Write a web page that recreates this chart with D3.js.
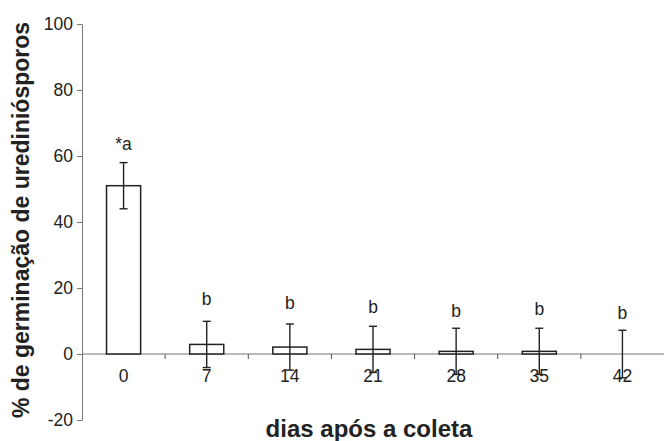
<!DOCTYPE html>
<html>
<head>
<meta charset="utf-8">
<script src="https://cdn.jsdelivr.net/npm/d3@7"></script>
<style>
  body { margin: 0; background: #fff; }
  text { font-family: "Liberation Sans", Arial, sans-serif; fill: #222; }
</style>
</head>
<body>
<div id="chartArea"></div>
<script>
// data
let days = ["0", "7", "14", "21", "28", "35", "42"];
let germination = [51, 2.9, 2.1, 1.4, 0.8, 0.8, 0];
let errors = [7, 7, 7, 7, 7, 7, 7.2];
let letters = ["*a", "b", "b", "b", "b", "b", "b"];
let letterAt = [61.8, 14.8, 13.6, 12.4, 11.3, 11.8, 10.6];
let yTicks = [-20, 0, 20, 40, 60, 80, 100];

let width = 664, height = 441;
let svg = d3.select('#chartArea').append('svg')
   .attr('width', width)
   .attr('height', height);

let x = d3.scaleBand().domain(days).range([82, 664]).paddingInner(0.59).paddingOuter(0.295);
let y = d3.scaleLinear().domain([-20, 100]).range([420, 24]);

// y axis
let yAxis = svg.append("g").attr("transform", "translate(82,0)")
   .call(d3.axisLeft(y).tickValues(yTicks).tickFormat(function(d){ return String(d); })
      .tickSize(5).tickSizeOuter(0).tickPadding(4));
yAxis.select(".domain").attr("stroke", "#777");
yAxis.selectAll(".tick line").attr("stroke", "#777");
yAxis.selectAll("text").style("font-size", "17.5px").attr("fill", "#222");

// x axis line at zero, ticks between categories
svg.append("line")
   .attr("x1", 82).attr("x2", 664)
   .attr("y1", y(0)).attr("y2", y(0))
   .attr("stroke", "#777").attr("stroke-width", 1.2);

let step = x.step();
svg.selectAll("line.xtick").data(days.slice(1))
   .enter().append("line")
   .attr("class", "xtick")
   .attr("x1", function(d){ return x(d) - (step - x.bandwidth()) / 2; })
   .attr("x2", function(d){ return x(d) - (step - x.bandwidth()) / 2; })
   .attr("y1", y(0)).attr("y2", y(0) + 5)
   .attr("stroke", "#555");

svg.selectAll("text.xlab").data(days)
   .enter().append("text")
   .attr("class", "xlab")
   .attr("x", function(d){ return x(d) + x.bandwidth() / 2; })
   .attr("y", y(0) + 28)
   .attr("text-anchor", "middle")
   .style("font-size", "17.5px")
   .text(function(d){ return d; });

// bars
svg.selectAll("rect.bar").data(days)
   .enter().append("rect")
   .attr("class", "bar")
   .attr("x", function(d){ return x(d); })
   .attr("width", x.bandwidth())
   .attr("y", function(d, i){ return y(germination[i]); })
   .attr("height", function(d, i){ return y(0) - y(germination[i]); })
   .attr("fill", "#fff")
   .attr("stroke", "#222")
   .attr("stroke-width", 1.5);

// error bars
let eb = svg.selectAll("g.err").data(days)
   .enter().append("g")
   .attr("class", "err")
   .attr("stroke", "#222")
   .attr("stroke-width", 1.4);
eb.append("line")
   .attr("x1", function(d){ return x(d) + x.bandwidth() / 2; })
   .attr("x2", function(d){ return x(d) + x.bandwidth() / 2; })
   .attr("y1", function(d, i){ return y(germination[i] + errors[i]); })
   .attr("y2", function(d, i){ return y(germination[i] - errors[i]); });
eb.append("line")
   .attr("x1", function(d){ return x(d) + x.bandwidth() / 2 - 4; })
   .attr("x2", function(d){ return x(d) + x.bandwidth() / 2 + 4; })
   .attr("y1", function(d, i){ return y(germination[i] + errors[i]); })
   .attr("y2", function(d, i){ return y(germination[i] + errors[i]); });
eb.append("line")
   .attr("x1", function(d){ return x(d) + x.bandwidth() / 2 - 4; })
   .attr("x2", function(d){ return x(d) + x.bandwidth() / 2 + 4; })
   .attr("y1", function(d, i){ return y(germination[i] - errors[i]); })
   .attr("y2", function(d, i){ return y(germination[i] - errors[i]); });

// letters
svg.selectAll("text.letter").data(days)
   .enter().append("text")
   .attr("class", "letter")
   .attr("x", function(d){ return x(d) + x.bandwidth() / 2; })
   .attr("y", function(d, i){ return y(letterAt[i]); })
   .attr("text-anchor", "middle")
   .style("font-size", "17.5px")
   .text(function(d, i){ return letters[i]; });

// axis titles
svg.append("text")
   .attr("x", 369).attr("y", 437)
   .attr("text-anchor", "middle")
   .style("font-size", "24px").style("font-weight", "bold")
   .text("dias após a coleta");

svg.append("text")
   .attr("transform", "translate(29,220) rotate(-90)")
   .attr("text-anchor", "middle")
   .style("font-size", "23px").style("font-weight", "bold")
   .text("% de germinação de urediniósporos");
</script>
</body>
</html>
